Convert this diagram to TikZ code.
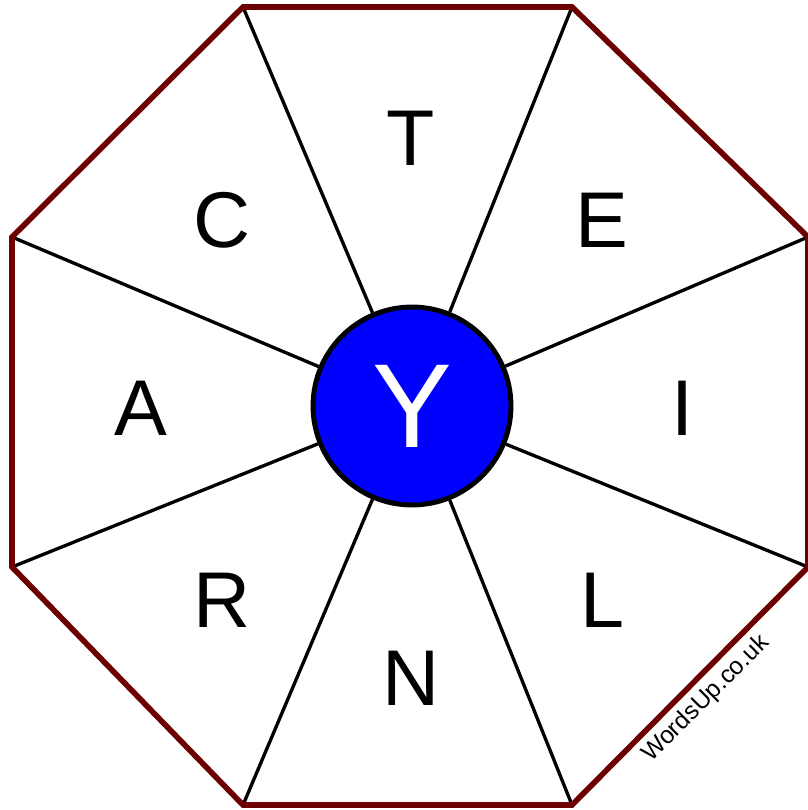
\documentclass[tikz,border=0pt]{standalone}
\usepackage{fontspec}
\setmainfont{Liberation Sans}
\usepackage{tikz}
\usetikzlibrary{positioning}
\definecolor{rim}{RGB}{108,0,0}

\begin{document}
\begin{tikzpicture}[
  x=0.02cm, y=-0.02cm,
  rimline/.style={draw=rim,line width=3.2pt,line join=miter},
  spoke/.style={draw=black,line width=1.9pt},
  hub/.style={circle,draw=black,fill=blue,line width=2.8pt,minimum size=3.96cm,inner sep=0pt,
    text=white,font=\fontsize{68}{68}\selectfont},
  letter/.style={font=\fontsize{45}{45}\selectfont,inner sep=0pt}
]
\useasboundingbox (0,0) rectangle (807,810);
\coordinate (v1) at (243,7);
\coordinate (v2) at (572,7);
\coordinate (v3) at (808,237);
\coordinate (v4) at (808,567);
\coordinate (v5) at (572,805);
\coordinate (v6) at (243,805);
\coordinate (v7) at (12,567);
\coordinate (v8) at (12,237);

\node[hub] (hub) at (412,406) {Y};

\draw[spoke] (hub) -- (v1);
\draw[spoke] (hub) -- (v2);
\draw[spoke] (hub) -- (v3);
\draw[spoke] (hub) -- (v4);
\draw[spoke] (hub) -- (v5);
\draw[spoke] (hub) -- (v6);
\draw[spoke] (hub) -- (v7);
\draw[spoke] (hub) -- (v8);
\draw[rimline] (v1) -- (v2) -- (v3) -- (v4) -- (v5) -- (v6) -- (v7) -- (v8) -- cycle;

\node[letter] (t) at (411,138) {T};
\node[letter] (e) at (602,220) {E};
\node[letter] (i) at (682,408) {I};
\node[letter] (l) at (602,600) {L};
\node[letter] (n) at (411,678) {N};
\node[letter] (r) at (222,600) {R};
\node[letter] (a) at (141,408) {A};
\node[letter] (c) at (222,220) {C};

\node[rotate=45,font=\fontsize{14}{14}\selectfont,inner sep=0pt] (site) at (706,699) {WordsUp.co.uk};
\end{tikzpicture}
\end{document}
